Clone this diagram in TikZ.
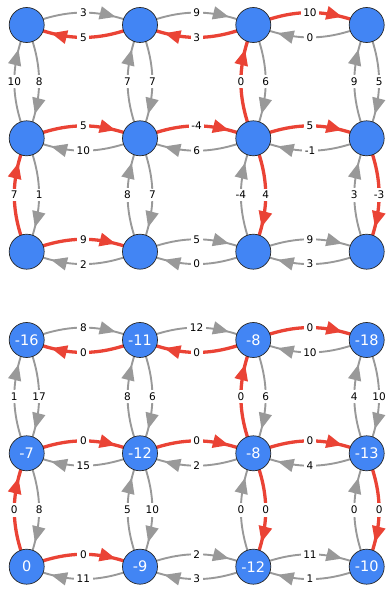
\documentclass[tikz,border=0pt]{standalone}
\usepackage{fontspec}
\setmainfont{DejaVu Sans}
\usetikzlibrary{arrows.meta,decorations.markings}
\definecolor{nblue}{HTML}{4285F4}
\definecolor{ered}{HTML}{EA4335}
\definecolor{egray}{HTML}{999999}
\pgfdeclarelayer{bg}
\pgfsetlayers{bg,main}
\tikzset{
  vertex/.style={circle, draw=black!85, line width=0.7pt, fill=nblue, minimum size=35pt, inner sep=0pt,
    text=white, font=\fontsize{14.5}{16}\selectfont},
  elab/.style={fill=white, text=black, inner sep=2.6pt, font=\fontsize{10.5}{12}\selectfont},
  arrowmark/.style={postaction={decorate}, decoration={markings,
    mark=at position 0.78 with {\arrow{Triangle[length=16pt,width=13pt]}}}},
  gedge/.style={color=egray, line width=1.9pt, arrowmark},
  redge/.style={color=ered, line width=3.3pt, arrowmark},
}
\newcommand{\myedge}[4]{\draw[#4] (#1.center) to[bend left=22] node[elab]{#3} (#2.center);}
\begin{document}
\begin{tikzpicture}[x=1pt,y=1pt]
\useasboundingbox (0,0) rectangle (388,590);
\def\Xa{26.7}\def\Xb{140}\def\Xc{253.3}\def\Xd{366.7}
% top grid
\node[vertex] (a00) at (\Xa,565) {};
\node[vertex] (a10) at (\Xb,565) {};
\node[vertex] (a20) at (\Xc,565) {};
\node[vertex] (a30) at (\Xd,565) {};
\node[vertex] (a01) at (\Xa,451.7) {};
\node[vertex] (a11) at (\Xb,451.7) {};
\node[vertex] (a21) at (\Xc,451.7) {};
\node[vertex] (a31) at (\Xd,451.7) {};
\node[vertex] (a02) at (\Xa,338.3) {};
\node[vertex] (a12) at (\Xb,338.3) {};
\node[vertex] (a22) at (\Xc,338.3) {};
\node[vertex] (a32) at (\Xd,338.3) {};
% bottom grid
\node[vertex] (b00) at (\Xa,250) {-16};
\node[vertex] (b10) at (\Xb,250) {-11};
\node[vertex] (b20) at (\Xc,250) {-8};
\node[vertex] (b30) at (\Xd,250) {-18};
\node[vertex] (b01) at (\Xa,136.7) {-7};
\node[vertex] (b11) at (\Xb,136.7) {-12};
\node[vertex] (b21) at (\Xc,136.7) {-8};
\node[vertex] (b31) at (\Xd,136.7) {-13};
\node[vertex] (b02) at (\Xa,23.3) {0};
\node[vertex] (b12) at (\Xb,23.3) {-9};
\node[vertex] (b22) at (\Xc,23.3) {-12};
\node[vertex] (b32) at (\Xd,23.3) {-10};
\begin{pgfonlayer}{bg}
% ---- top grid edges
\myedge{a00}{a10}{3}{gedge}
\myedge{a10}{a00}{5}{redge}
\myedge{a10}{a20}{9}{gedge}
\myedge{a20}{a10}{3}{redge}
\myedge{a20}{a30}{10}{redge}
\myedge{a30}{a20}{0}{gedge}
\myedge{a01}{a00}{10}{gedge}
\myedge{a00}{a01}{8}{gedge}
\myedge{a11}{a10}{7}{gedge}
\myedge{a10}{a11}{7}{gedge}
\myedge{a21}{a20}{0}{redge}
\myedge{a20}{a21}{6}{gedge}
\myedge{a31}{a30}{9}{gedge}
\myedge{a30}{a31}{5}{gedge}
\myedge{a01}{a11}{5}{redge}
\myedge{a11}{a01}{10}{gedge}
\myedge{a11}{a21}{-4}{redge}
\myedge{a21}{a11}{6}{gedge}
\myedge{a21}{a31}{5}{redge}
\myedge{a31}{a21}{-1}{gedge}
\myedge{a02}{a01}{7}{redge}
\myedge{a01}{a02}{1}{gedge}
\myedge{a12}{a11}{8}{gedge}
\myedge{a11}{a12}{7}{gedge}
\myedge{a22}{a21}{-4}{gedge}
\myedge{a21}{a22}{4}{redge}
\myedge{a32}{a31}{3}{gedge}
\myedge{a31}{a32}{-3}{redge}
\myedge{a02}{a12}{9}{redge}
\myedge{a12}{a02}{2}{gedge}
\myedge{a12}{a22}{5}{gedge}
\myedge{a22}{a12}{0}{gedge}
\myedge{a22}{a32}{9}{gedge}
\myedge{a32}{a22}{3}{gedge}
% ---- bottom grid edges
\myedge{b00}{b10}{8}{gedge}
\myedge{b10}{b00}{0}{redge}
\myedge{b10}{b20}{12}{gedge}
\myedge{b20}{b10}{0}{redge}
\myedge{b20}{b30}{0}{redge}
\myedge{b30}{b20}{10}{gedge}
\myedge{b01}{b00}{1}{gedge}
\myedge{b00}{b01}{17}{gedge}
\myedge{b11}{b10}{8}{gedge}
\myedge{b10}{b11}{6}{gedge}
\myedge{b21}{b20}{0}{redge}
\myedge{b20}{b21}{6}{gedge}
\myedge{b31}{b30}{4}{gedge}
\myedge{b30}{b31}{10}{gedge}
\myedge{b01}{b11}{0}{redge}
\myedge{b11}{b01}{15}{gedge}
\myedge{b11}{b21}{0}{redge}
\myedge{b21}{b11}{2}{gedge}
\myedge{b21}{b31}{0}{redge}
\myedge{b31}{b21}{4}{gedge}
\myedge{b02}{b01}{0}{redge}
\myedge{b01}{b02}{8}{gedge}
\myedge{b12}{b11}{5}{gedge}
\myedge{b11}{b12}{10}{gedge}
\myedge{b22}{b21}{0}{gedge}
\myedge{b21}{b22}{0}{redge}
\myedge{b32}{b31}{0}{gedge}
\myedge{b31}{b32}{0}{redge}
\myedge{b02}{b12}{0}{redge}
\myedge{b12}{b02}{11}{gedge}
\myedge{b12}{b22}{2}{gedge}
\myedge{b22}{b12}{3}{gedge}
\myedge{b22}{b32}{11}{gedge}
\myedge{b32}{b22}{1}{gedge}
\end{pgfonlayer}
\end{tikzpicture}
\end{document}
